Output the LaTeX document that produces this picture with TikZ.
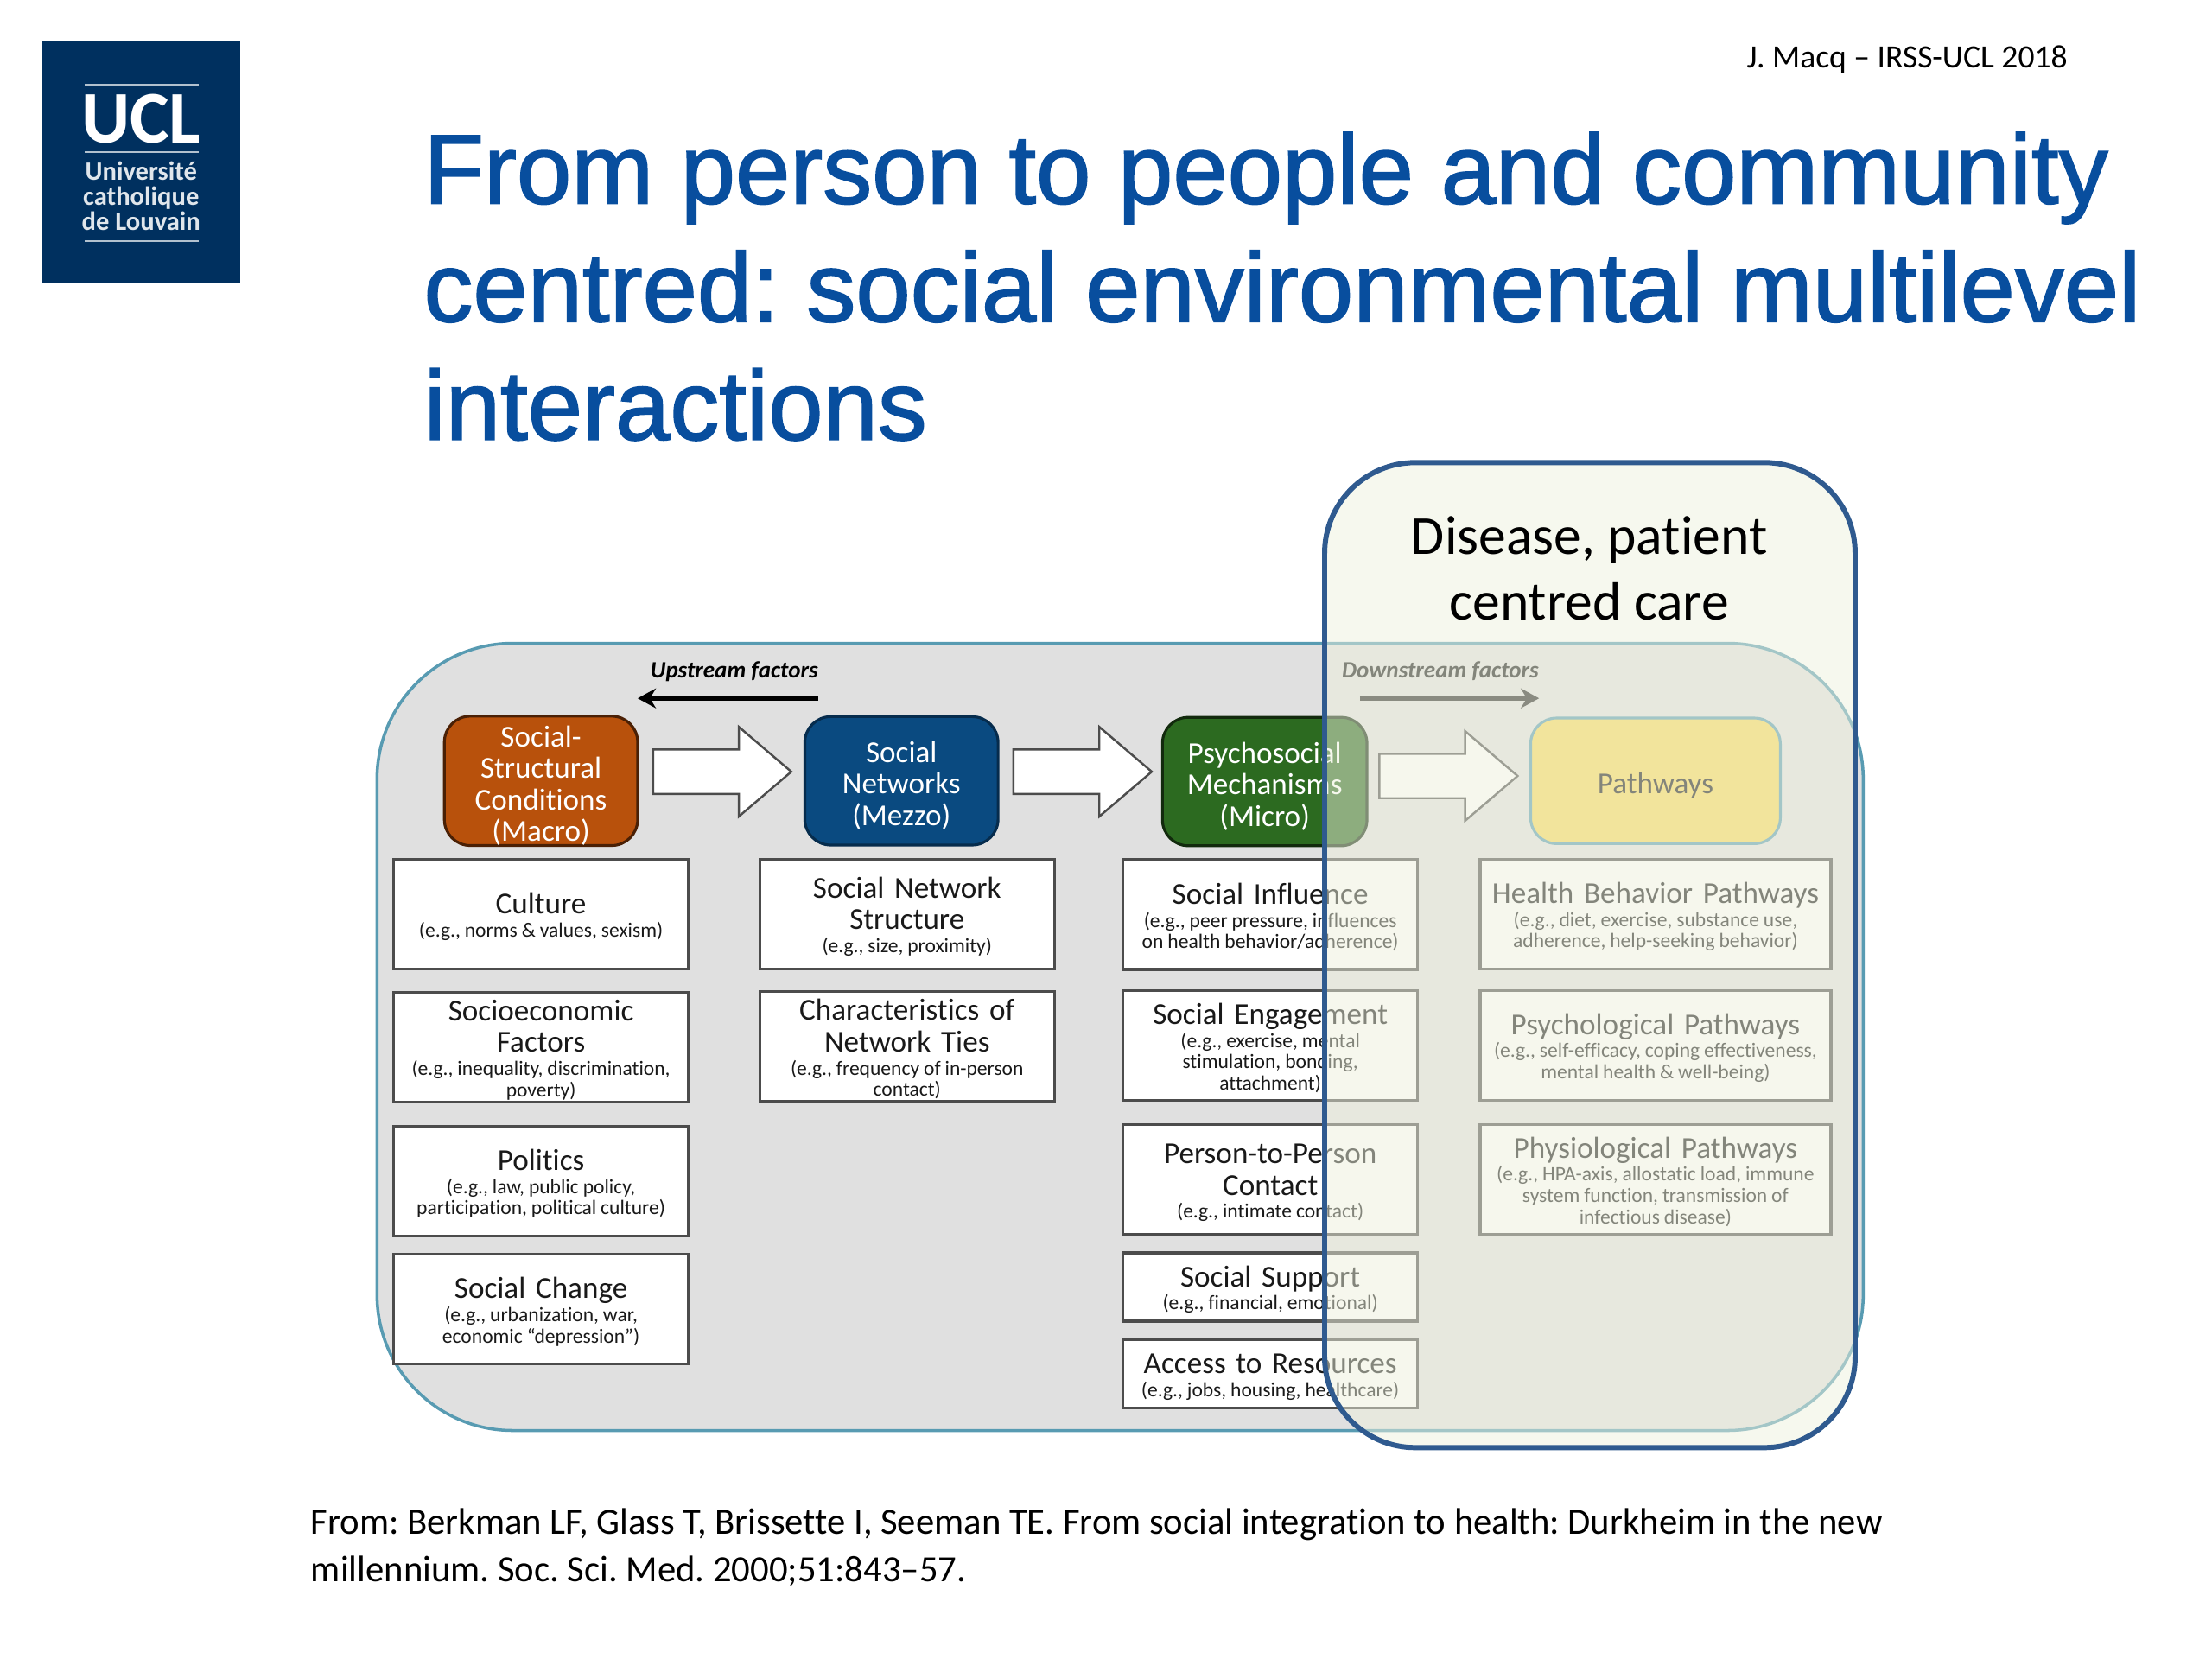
\documentclass[tikz,border=0pt]{standalone}
\usepackage{fontspec}
\setmainfont{Carlito}[Ligatures=NoCommon]
\newfontfamily\titlefont{Liberation Sans}[FakeBold=1.5]
\usepackage{tikz}
\usetikzlibrary{arrows.meta, positioning, calc, shapes.arrows}
\frenchspacing

\definecolor{uclblue}{RGB}{0,48,95}
\definecolor{titleblue}{RGB}{8,78,158}
\definecolor{panelgray}{RGB}{224,224,224}
\definecolor{paneledge}{RGB}{88,155,178}
\definecolor{frameblue}{RGB}{47,90,143}
\definecolor{framefill}{RGB}{238,241,221}
\definecolor{macrofill}{RGB}{184,81,12}
\definecolor{mezzofill}{RGB}{10,74,128}
\definecolor{microfill}{RGB}{44,106,32}
\definecolor{pathfill}{RGB}{248,215,91}

\newcommand{\factor}[2]{{\fontsize{10}{10.4}\selectfont\rule{0pt}{8.6pt}#1\par}\vspace{0.6pt}{\fontsize{6.7}{7}\selectfont\spaceskip=0.21em #2\par}}

\tikzset{
  level/.style={draw, line width=0.9pt, rounded corners=0.3cm, text=white, align=center,
    minimum height=1.486cm, minimum width=2.237cm, text width=2.2cm, inner sep=0pt,
    font=\fontsize{10}{10.4}\selectfont, execute at begin node=\rule{0pt}{10pt}},
  factorbox/.style={draw=black!70, line width=0.9pt, fill=white, text=black!90, align=center,
    minimum width=3.41cm, minimum height=1.27cm, text width=3.38cm, inner sep=0pt},
  flow/.style={single arrow, draw=black!70, line width=0.7pt, fill=white, inner xsep=0pt, inner ysep=0.245cm,
    minimum height=1.6cm, minimum width=1.012cm,
    single arrow head extend=0.261cm, single arrow tip angle=81},
  trend/.style={-{Stealth[length=6pt, width=6.5pt]}, line width=1.4pt},
  trendlabel/.style={inner sep=0pt, font=\fontsize{7.7}{9}\selectfont\bfseries\itshape}
}

\begin{document}
\begin{tikzpicture}[x=0.016327cm, y=-0.016327cm]
        \useasboundingbox (0,0) rectangle (1568,1176);

        % logo
        \node (logo) [fill=uclblue, minimum width=2.293cm, minimum height=2.808cm, inner sep=0pt] at (100,115) {};
        \foreach \ly in {60,108,171} {
            \draw[white!70!uclblue, line width=0.6pt] (60,\ly) -- (141,\ly);
        }
        \node (ucl) [text=white, inner sep=0pt, font=\fontsize{24.5}{24.5}\selectfont\bfseries] at (100,84.5) {UCL};
        \node (univ) [text=white!88!uclblue, inner sep=0pt, align=center, font=\fontsize{8.7}{8.3}\selectfont\bfseries] at (100,139) {Université\\catholique\\de Louvain};

        % header
        \node (credit) [anchor=east, inner sep=0pt, font=\fontsize{10.7}{13}\selectfont] at (1466,42) {J. Macq -- IRSS-UCL 2018};
        \node (title) [anchor=west, inner sep=0pt, align=left, text=titleblue, font=\titlefont\fontsize{32.4}{38.9}\selectfont] at (300,203) {From person to people and community\\centred: social environmental multilevel\\interactions};

        % panel
        \node (panel) [draw=paneledge, line width=1pt, fill=panelgray, rounded corners=1.57cm, minimum width=17.2cm, minimum height=9.11cm, inner sep=0pt] at (794,735) {};

        \node (upstream) [trendlabel] at (520.5,476) {Upstream factors};
        \node (downstream) [trendlabel, text=black!90] at (1021,476) {Downstream factors};
        \coordinate (upstart) at (580,495);
        \coordinate (upend) at (452,495);
        \coordinate (downstart) at (964,495);
        \coordinate (downend) at (1091,495);
        \path[trend] (upstart) edge (upend);
        \path[trend, black!85] (downstart) edge (downend);

        % levels
        \node (macro) [level, draw=black!60!macrofill, fill=macrofill] at (383.5,553.5) {Social-\\Structural\\Conditions\\(Macro)};
        \node (mezzo) [level, draw=black!40!mezzofill, fill=mezzofill] at (639,553.5) {Social\\Networks\\(Mezzo)};
        \node (micro) [level, draw=black!60!microfill, fill=microfill, minimum width=2.367cm] at (896.5,554) {Psychosocial\\Mechanisms\\(Micro)};
        \node (path) [level, draw=paneledge, fill=pathfill, text=black!90, minimum width=2.89cm, minimum height=1.453cm] at (1173.5,553.5) {Pathways};

        \node (flow1) [flow, right=0.15cm of macro, yshift=0.106cm] {};
        \node (flow2) [flow, right=0.15cm of mezzo, yshift=0.106cm] {};
        \node (flow3) [flow, right=0.115cm of micro, yshift=0.065cm] {};

        % macro column
        \node (culture) [factorbox, below=0.13cm of macro] {\factor{Culture}{(e.g., norms \& values, sexism)}};
        \node (socioec) [factorbox, below=0.235cm of culture] {\factor{Socioeconomic\\Factors}{(e.g., inequality, discrimination,\\poverty)}};
        \node (politics) [factorbox, below=0.248cm of socioec] {\factor{Politics}{(e.g., law, public policy,\\participation, political culture)}};
        \node (change) [factorbox, below=0.182cm of politics] {\factor{Social Change}{(e.g., urbanization, war,\\economic “depression”)}};

        % mezzo column
        \node (structure) [factorbox, below=0.13cm of mezzo, xshift=0.065cm] {\factor{Social Network\\Structure}{(e.g., size, proximity)}};
        \node (ties) [factorbox, below=0.235cm of structure] {\factor{Characteristics of\\Network Ties}{(e.g., frequency of in-person\\contact)}};

        % micro column
        \node (influence) [factorbox, below=0.13cm of micro, xshift=0.065cm] {\factor{Social Influence}{(e.g., peer pressure, influences\\on health behavior/adherence)}};
        \node (engage) [factorbox, below=0.215cm of influence] {\factor{Social Engagement}{(e.g., exercise, mental\\stimulation, bonding,\\attachment)}};
        \node (contact) [factorbox, below=0.248cm of engage] {\factor{Person-to-Person\\Contact}{(e.g., intimate contact)}};
        \node (support) [factorbox, minimum height=0.79cm, below=0.182cm of contact] {\factor{Social Support}{(e.g., financial, emotional)}};
        \node (access) [factorbox, minimum height=0.79cm, below=0.182cm of support] {\factor{Access to Resources}{(e.g., jobs, housing, healthcare)}};

        % pathways column
        \node (health) [factorbox, minimum width=4.06cm, text width=4.03cm, below=0.15cm of path] {\factor{Health Behavior Pathways}{(e.g., diet, exercise, substance use,\\adherence, help-seeking behavior)}};
        \node (psych) [factorbox, minimum width=4.06cm, text width=4.03cm, below=0.215cm of health] {\factor{Psychological Pathways}{(e.g., self-efficacy, coping effectiveness,\\mental health \& well-being)}};
        \node (physio) [factorbox, minimum width=4.06cm, text width=4.03cm, below=0.248cm of psych] {\factor{Physiological Pathways}{(e.g., HPA-axis, allostatic load, immune\\system function, transmission of\\infectious disease)}};

        % care frame
        \node (careframe) [draw=frameblue, line width=1.7pt, fill=framefill, fill opacity=0.5, rounded corners=1.05cm, minimum width=6.14cm, minimum height=11.4cm, inner sep=0pt] at (1127,677) {};
        \node (carelabel) [inner sep=0pt, align=center, font=\fontsize{18.1}{21.8}\selectfont] at (1126.5,403) {Disease, patient\\centred care};

        % source
        \node (source) [anchor=west, inner sep=0pt, align=left, font=\fontsize{12.15}{15.7}\selectfont] at (220,1097) {From: Berkman LF, Glass T, Brissette I, Seeman TE. From social integration to health: Durkheim in the new\\millennium. Soc. Sci. Med. 2000;51:843--57.};
    \end{tikzpicture}
\end{document}
